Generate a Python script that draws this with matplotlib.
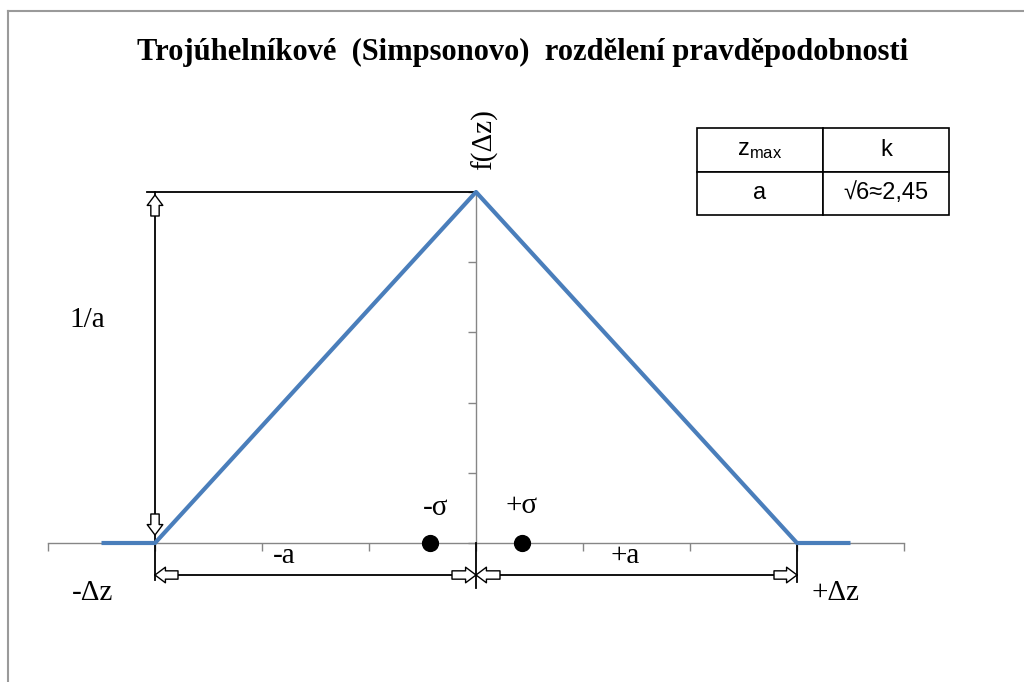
import numpy as np
import matplotlib.pyplot as plt
from matplotlib.lines import Line2D

# triangular (Simpson) distribution, a = 3 units on the x axis
a = 3.0
peak = 1 / a
dz = [-3.5, -3.0, 0.0, 3.0, 3.5]
fz = [0.0, 0.0, peak, 0.0, 0.0]
sigma_x = [-0.43, 0.43]
x_ticks = np.arange(-4, 5, 1)
y_ticks = np.linspace(0, peak, 6)

table_head = ['$\\mathregular{z_{max}}$', 'k']
table_row = ['a', '√6≈2,45']

title = 'Trojúhelníkové  (Simpsonovo)  rozdělení pravděpodobnosti'

serif = 'Liberation Serif'
grey = '#868686'
blue = '#4a7ebb'

fig = plt.figure(figsize=(10.24, 6.82), dpi=100)
ax = fig.add_axes([48 / 1024, 1 - 620 / 682, 856 / 1024, 500 / 682])

ypp = peak / 351  # data units per pixel (vertical)
xpp = 1 / 107.0
ax.set_xlim(-4, 4)
ax.set_ylim(-(620 - 543) * ypp, (543 - 120) * ypp)

for s in ['top', 'right']:
    ax.spines[s].set_visible(False)
ax.spines['left'].set_position(('data', 0))
ax.spines['bottom'].set_position(('data', 0))
ax.spines['left'].set_bounds(0, peak)
ax.spines['bottom'].set_bounds(-4, 4)
for s in ['left', 'bottom']:
    ax.spines[s].set_color(grey)
    ax.spines[s].set_linewidth(1)
ax.set_xticks(x_ticks)
ax.set_yticks(y_ticks)
ax.set_xticklabels([])
ax.set_yticklabels([])
ax.tick_params(direction='out', length=6, color=grey, width=1)

# the distribution
ax.plot(dz, fz, color=blue, lw=3, solid_capstyle='butt', zorder=4)
ax.scatter(sigma_x, [0, 0], s=130, color='black', zorder=5, clip_on=False)

# dimension lines
ydim = -32 * ypp
k = dict(color='black', lw=1.3, clip_on=False, zorder=3)
ax.plot([-a - 8 * xpp, 0], [peak, peak], **k)
ax.plot([-a, -a], [peak, -37 * ypp], **k)
ax.plot([0, 0], [0, -45 * ypp], **k)
ax.plot([a, a], [0, -39 * ypp], **k)
ax.plot([-a, a], [ydim, ydim], **k)


def hollow_arrow(tip, tail):
    ax.annotate('', xy=tip, xytext=tail, annotation_clip=False,
                arrowprops=dict(arrowstyle='simple,head_length=0.5,head_width=0.75,tail_width=0.4',
                                fc='white', ec='black', lw=1, shrinkA=0, shrinkB=0,
                                mutation_scale=15))


hollow_arrow((-a, peak - 3 * ypp), (-a, peak - 24 * ypp))
hollow_arrow((-a, 8 * ypp), (-a, 29 * ypp))
hollow_arrow((-a, ydim), (-a + 23 * xpp, ydim))
hollow_arrow((0, ydim), (-24 * xpp, ydim))
hollow_arrow((0, ydim), (24 * xpp, ydim))
hollow_arrow((a, ydim), (a - 23 * xpp, ydim))

# labels
t = dict(family=serif, fontsize=21, ha='center', va='center')
ax.text(-0.38, 35 * ypp, '-σ', **t)
ax.text(0.43, 37 * ypp, '+σ', **t)
ax.text(-1.79, -13 * ypp, '-a', **t)
ax.text(1.39, -13 * ypp, '+a', **t)
ax.text(-3.58, -50 * ypp, '-Δz', **t)
ax.text(3.36, -50 * ypp, '+Δz', **t)
ax.text(-3.63, 223 * ypp, '1/a', **t)
ax.text(0.08, 403 * ypp, 'f(Δz)', rotation=90, **t)

# small table
tb = ax.table(cellText=[table_row], colLabels=table_head, cellLoc='center',
              bbox=[(697 - 48) / 856, (620 - 215) / 500, 252 / 856, 87 / 500])
tb.auto_set_font_size(False)
tb.set_fontsize(17)
for cell in tb.get_celld().values():
    cell.set_edgecolor('black')
    cell.set_linewidth(1.2)
    cell.get_text().set_fontfamily('Liberation Sans')

fig.text(523 / 1024, 1 - 52 / 682, title, ha='center', va='center',
         family=serif, fontweight='bold', fontsize=22)

# frame on left and top
fig.add_artist(Line2D([8 / 1024, 8 / 1024], [0, 1 - 11 / 682], color='#9a9a9a', lw=1.5))
fig.add_artist(Line2D([8 / 1024, 1], [1 - 11 / 682, 1 - 11 / 682], color='#9a9a9a', lw=1.5))

fig.savefig('out.png', dpi=100)
